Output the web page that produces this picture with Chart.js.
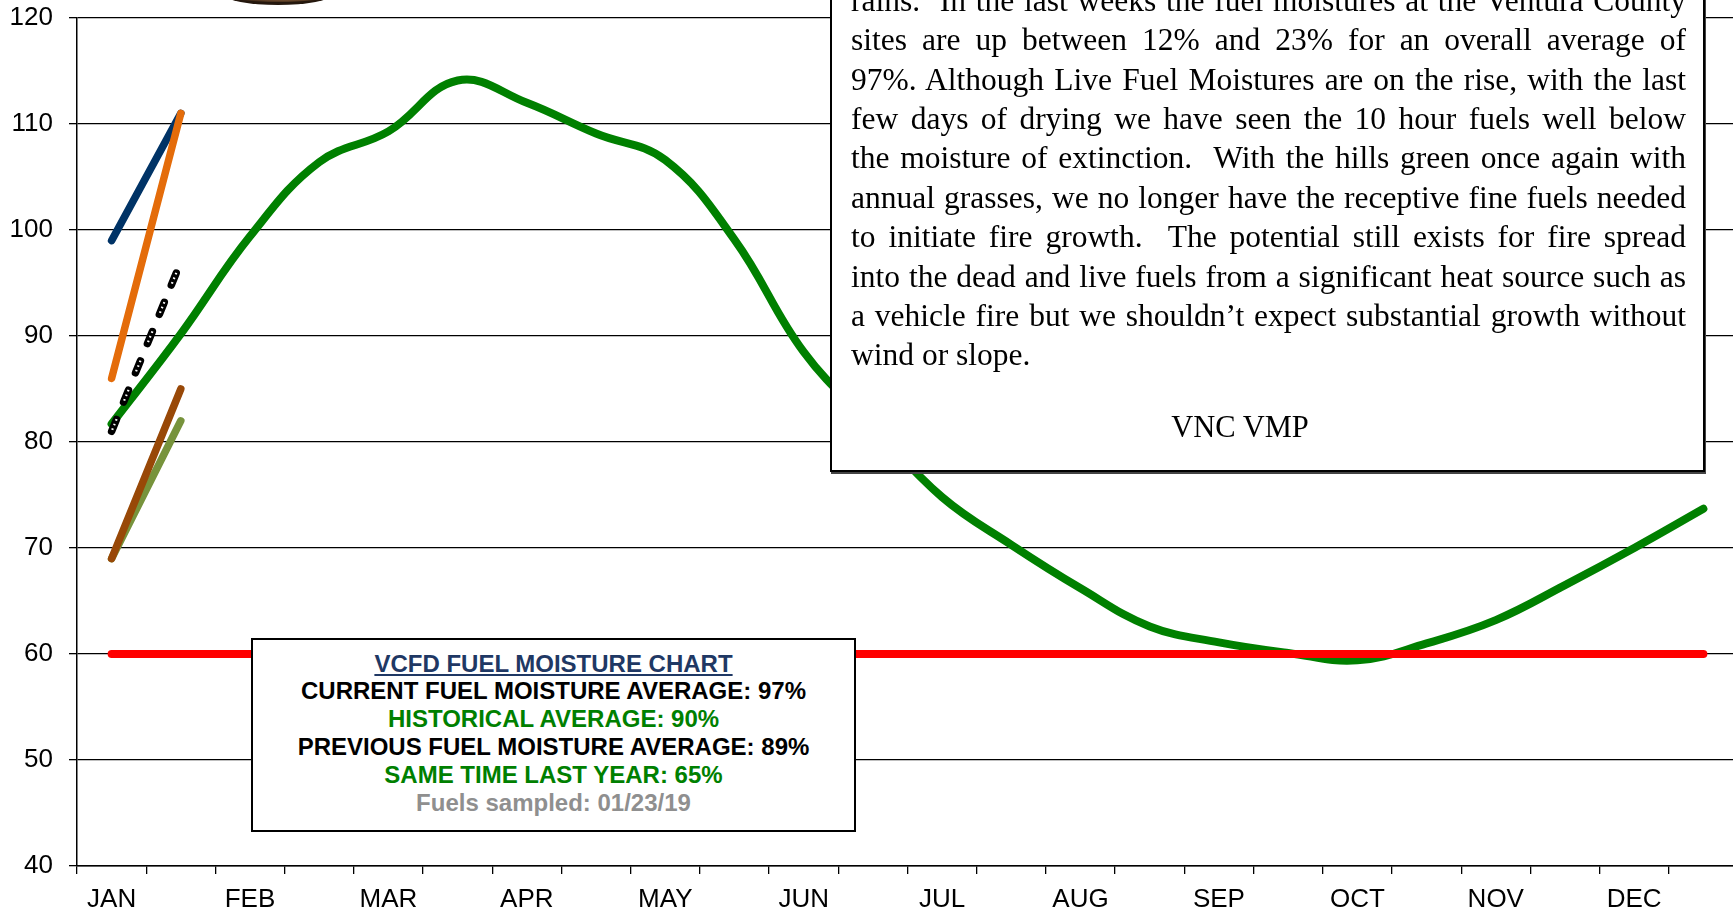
<!DOCTYPE html>
<html>
<head>
<meta charset="utf-8">
<script src="https://cdn.jsdelivr.net/npm/chart.js@4.4.0/dist/chart.umd.min.js"></script>
<style>
  html, body { margin: 0; padding: 0; background: #fff; overflow: hidden; }
  #wrap { position: relative; width: 1733px; height: 911px; overflow: hidden; }
  #fuelChart { position: absolute; left: 0; top: 0; }

  /* bottom rim of the department badge, cut by the page top */
  .badge {
    position: absolute; left: 225px; top: -15px; width: 106px; height: 20px;
    border-radius: 50%; box-sizing: border-box;
    background: radial-gradient(ellipse at 55% 40%, #d9b48a 0%, #a8764a 40%, #3a2616 75%);
    border-bottom: 3px solid #24170d; filter: blur(0.6px);
  }

  /* comment box, top part runs off the page */
  .note {
    position: absolute; left: 830px; top: -60px; width: 875px; height: 532px;
    box-sizing: border-box; border: 2px solid #000; background: #fff;
    box-shadow: 1px 2px 0 #444;
    padding: 38.7px 17px 0 19px;
    font-family: "Liberation Serif", "Times New Roman", serif;
    font-size: 31.5px; line-height: 39.4px; color: #000;
  }
  .note .ln { white-space: nowrap; text-align: justify; text-align-last: justify; }
  .note .ln.end { text-align-last: left; }
  .note .sig { position: absolute; left: 0; width: 816px; top: 466px; text-align: center; font-size: 30.5px; }

  /* summary box */
  .summary {
    position: absolute; left: 251px; top: 637.5px; width: 605px; height: 194px;
    box-sizing: border-box; border: 2px solid #000; background: #fff;
    padding-top: 10px; text-align: center;
    font-family: "Liberation Sans", Arial, sans-serif; font-weight: bold;
    font-size: 24px; line-height: 27.9px; color: #000;
  }
  .summary .title { color: #1f3864; text-decoration: underline; text-underline-offset: 2px; }
  .summary .green { color: #008000; }
  .summary .grey { color: #8f8f8f; }
</style>
</head>
<body>
<div id="wrap">
  <canvas id="fuelChart" width="1738" height="911"></canvas>
  <div class="badge"></div>

  <div class="note">
    <div class="ln">rains.&nbsp; In the last weeks the fuel moistures at the Ventura County</div>
    <div class="ln">sites are up between 12% and 23% for an overall average of</div>
    <div class="ln">97%. Although Live Fuel Moistures are on the rise, with the last</div>
    <div class="ln">few days of drying we have seen the 10 hour fuels well below</div>
    <div class="ln">the moisture of extinction.&nbsp; With the hills green once again with</div>
    <div class="ln">annual grasses, we no longer have the receptive fine fuels needed</div>
    <div class="ln">to initiate fire growth.&nbsp; The potential still exists for fire spread</div>
    <div class="ln">into the dead and live fuels from a significant heat source such as</div>
    <div class="ln">a vehicle fire but we shouldn’t expect substantial growth without</div>
    <div class="ln end">wind or slope.</div>
    <div class="sig">VNC VMP</div>
  </div>

  <div class="summary">
    <div class="title">VCFD FUEL MOISTURE CHART</div>
    <div>CURRENT FUEL MOISTURE AVERAGE: 97%</div>
    <div class="green">HISTORICAL AVERAGE: 90%</div>
    <div>PREVIOUS FUEL MOISTURE AVERAGE: 89%</div>
    <div class="green">SAME TIME LAST YEAR: 65%</div>
    <div class="grey">Fuels sampled: 01/23/19</div>
  </div>
</div>

<script>
// two slots per month, only the first one carries the month name
const months = ['JAN', 'FEB', 'MAR', 'APR', 'MAY', 'JUN', 'JUL', 'AUG', 'SEP', 'OCT', 'NOV', 'DEC'];
const slotLabels = months.flatMap(m => [m, '']);

// historical average moisture, one value per half month
const historicalAvg = [81.7, 90.2, 99.4, 106.4, 109.3, 114.1, 112.0, 109.1, 106.6, 99.1, 88.5, 81.5,
                       74.8, 70.3, 66.2, 62.6, 61.1, 60.1, 59.4, 61.0, 63.2, 66.5, 70.0, 73.7];

// critical moisture line
const criticalLine = [60, 60, 60, 60, 60, 60, 60, 60, 60, 60, 60, 60,
                      60, 60, 60, 60, 60, 60, 60, 60, 60, 60, 60, 60];

// sampling sites, previous and current reading
const site1 = [99, 111];
const site2 = [86, 111];
const site3 = [69, 85];
const site4 = [69, 82];
const currentAvg = [81, 97];

const axisFont = { family: 'Liberation Sans, Arial, sans-serif', size: 26 };

function solid(data, color, width, order) {
    return {
        data: data,
        borderColor: color,
        borderWidth: width,
        borderCapStyle: 'round',
        borderJoinStyle: 'round',
        pointRadius: 0,
        fill: false,
        order: order
    };
}

const data = {
    labels: slotLabels,
    datasets: [
        Object.assign(solid(historicalAvg, '#008000', 8, 8), { tension: 0.4 }),
        solid(criticalLine, '#ff0000', 8, 7),
        solid(site4, '#77933c', 7.5, 6),
        solid(site3, '#984807', 7.5, 5),
        solid(site1, '#003366', 7.5, 4),
        solid(site2, '#e46c0a', 7.5, 3),
        // average: black dashes with white dots inside
        Object.assign(solid(currentAvg, '#000000', 7.5, 2), { borderDash: [13, 18.6] }),
        Object.assign(solid(currentAvg, '#ffffff', 2.2, 1), {
            borderCapStyle: 'butt',
            borderDash: [1.6, 3.4, 1.6, 3.4, 1.6, 20],
            borderDashOffset: -1.6
        })
    ]
};

const config = {
    type: 'line',
    data,
    options: {
        responsive: false,
        animation: false,
        devicePixelRatio: 1,
        layout: { padding: { top: 18, right: 0, bottom: 0, left: 0 } },
        scales: {
            x: {
                offset: true,
                grid: {
                    offset: true,
                    drawOnChartArea: false,
                    drawTicks: true,
                    tickLength: 8,
                    color: '#000',
                    lineWidth: 1.3
                },
                border: { display: true, color: '#000', width: 1.5 },
                ticks: {
                    autoSkip: false,
                    maxRotation: 0,
                    color: '#000',
                    font: axisFont,
                    padding: 10
                },
                afterFit: (scale) => { scale.height = 45; }
            },
            y: {
                min: 40,
                max: 120,
                grid: {
                    color: '#000',
                    lineWidth: 1.3,
                    tickLength: 8
                },
                border: { display: true, color: '#000', width: 1.5 },
                ticks: {
                    stepSize: 10,
                    color: '#000',
                    font: axisFont,
                    padding: 16
                },
                afterFit: (scale) => {
                    // labels fit inside the layout padding, no extra room needed
                    scale.width = 77;
                    scale.paddingTop = 0;
                    scale.paddingBottom = 0;
                }
            }
        },
        plugins: {
            legend: { display: false },
            tooltip: { enabled: false }
        }
    }
};

new Chart(document.getElementById('fuelChart'), config);
</script>
</body>
</html>
